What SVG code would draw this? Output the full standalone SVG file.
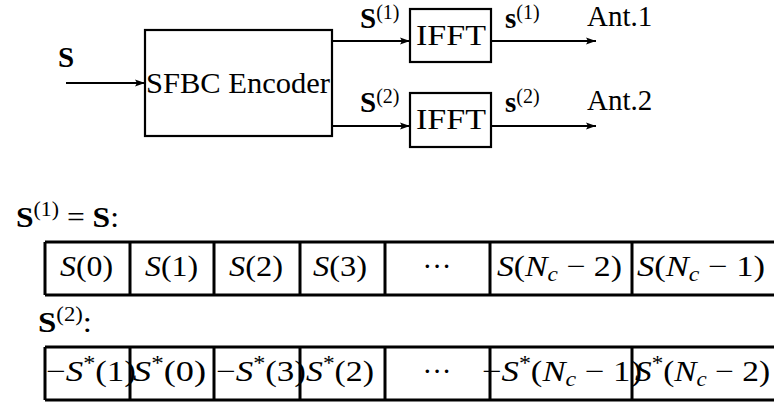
<svg xmlns="http://www.w3.org/2000/svg" width="774" height="407" viewBox="0 0 774 407">
<defs>
<style>
.t{font-family:"Liberation Serif","Times New Roman",serif;font-size:29px;fill:#000}
.i{font-style:italic}
.b{font-weight:bold}
.n{font-weight:normal;font-style:normal}
.sup{font-size:20px}
.box{fill:none;stroke:#000;stroke-width:2.2}
.ln{stroke:#000;stroke-width:2.2;fill:none}
.tl{stroke:#000;stroke-width:3;fill:none}
</style>
<marker id="arr" markerUnits="userSpaceOnUse" markerWidth="11" markerHeight="8" refX="10" refY="4" orient="auto">
<path d="M0,0.5 L10,4 L0,7.5 L2,4 z" fill="#000"/>
</marker>
</defs>
<rect width="774" height="407" fill="#fff"/>

<g id="input-label"><text class="t b" x="58" y="67">S</text></g>

<g id="encoder">
<rect class="box" x="145" y="30" width="187" height="106"/>
<text class="t" x="146" y="93" textLength="184" lengthAdjust="spacingAndGlyphs">SFBC Encoder</text>
</g>

<g id="ifft1">
<rect class="box" x="410" y="9" width="81" height="53"/>
<text class="t" x="416" y="45" textLength="70" lengthAdjust="spacingAndGlyphs">IFFT</text>
</g>

<g id="ifft2">
<rect class="box" x="410" y="93" width="81" height="54"/>
<text class="t" x="416" y="129" textLength="70" lengthAdjust="spacingAndGlyphs">IFFT</text>
</g>

<g id="labels">
<text class="t b" x="360" y="28">S<tspan class="sup n" dy="-9">(1)</tspan></text>
<text class="t b" x="505" y="28">s<tspan class="sup n" dy="-9">(1)</tspan></text>
<text class="t" x="587" y="26">Ant.1</text>
<text class="t b" x="360" y="112">S<tspan class="sup n" dy="-9">(2)</tspan></text>
<text class="t b" x="505" y="112">s<tspan class="sup n" dy="-9">(2)</tspan></text>
<text class="t" x="587" y="110">Ant.2</text>
</g>

<g id="connectors">
<line class="ln" x1="66" y1="83" x2="145" y2="83" marker-end="url(#arr)"/>
<line class="ln" x1="332" y1="41" x2="410" y2="41" marker-end="url(#arr)"/>
<line class="ln" x1="332" y1="126" x2="410" y2="126" marker-end="url(#arr)"/>
<line class="ln" x1="491" y1="41" x2="596" y2="41" marker-end="url(#arr)"/>
<line class="ln" x1="491" y1="126" x2="596" y2="126" marker-end="url(#arr)"/>
</g>

<g id="row1-label"><text class="t" x="16" y="227" textLength="103" lengthAdjust="spacingAndGlyphs"><tspan class="b">S</tspan><tspan class="sup" dy="-11">(1)</tspan><tspan dy="11"> = </tspan><tspan class="b">S</tspan>:</text></g>

<g id="row1">
<g id="r1c0"><text class="t" x="60" y="276" textLength="53" lengthAdjust="spacingAndGlyphs"><tspan class="i">S</tspan>(0)</text></g>
<g id="r1c1"><text class="t" x="145" y="276" textLength="53" lengthAdjust="spacingAndGlyphs"><tspan class="i">S</tspan>(1)</text></g>
<g id="r1c2"><text class="t" x="229" y="276" textLength="54" lengthAdjust="spacingAndGlyphs"><tspan class="i">S</tspan>(2)</text></g>
<g id="r1c3"><text class="t" x="313" y="276" textLength="54" lengthAdjust="spacingAndGlyphs"><tspan class="i">S</tspan>(3)</text></g>
<g id="r1c4"><text class="t" x="437" y="276" text-anchor="middle">···</text></g>
<g id="r1c5"><text class="t" x="497" y="276" textLength="125" lengthAdjust="spacingAndGlyphs"><tspan class="i">S</tspan>(<tspan class="i">N</tspan><tspan class="sup i" dy="5">c</tspan><tspan dy="-5"> − 2)</tspan></text></g>
<g id="r1c6"><text class="t" x="637" y="276" textLength="128" lengthAdjust="spacingAndGlyphs"><tspan class="i">S</tspan>(<tspan class="i">N</tspan><tspan class="sup i" dy="5">c</tspan><tspan dy="-5"> − 1)</tspan></text></g>
<path class="tl" d="M45,242 H774 M45,295 H774 M45,242 V295 M130,242 V295 M214,242 V295 M300,242 V295 M385,242 V295 M490,242 V295 M632,242 V295"/>
</g>

<g id="row2-label"><text class="t" x="38" y="332" textLength="54" lengthAdjust="spacingAndGlyphs"><tspan class="b">S</tspan><tspan class="sup" dy="-11">(2)</tspan><tspan dy="11">:</tspan></text></g>

<g id="row2">
<g id="r2c0"><text class="t" x="46" y="381" textLength="90" lengthAdjust="spacingAndGlyphs">−<tspan class="i">S</tspan><tspan class="sup" dy="-11">*</tspan><tspan dy="11">(1)</tspan></text></g>
<g id="r2c1"><text class="t" x="133" y="381" textLength="73" lengthAdjust="spacingAndGlyphs"><tspan class="i">S</tspan><tspan class="sup" dy="-11">*</tspan><tspan dy="11">(0)</tspan></text></g>
<g id="r2c2"><text class="t" x="216" y="381" textLength="90" lengthAdjust="spacingAndGlyphs">−<tspan class="i">S</tspan><tspan class="sup" dy="-11">*</tspan><tspan dy="11">(3)</tspan></text></g>
<g id="r2c3"><text class="t" x="306" y="381" textLength="68" lengthAdjust="spacingAndGlyphs"><tspan class="i">S</tspan><tspan class="sup" dy="-11">*</tspan><tspan dy="11">(2)</tspan></text></g>
<g id="r2c4"><text class="t" x="437" y="381" text-anchor="middle">···</text></g>
<g id="r2c5"><text class="t" x="482" y="381" textLength="160" lengthAdjust="spacingAndGlyphs">−<tspan class="i">S</tspan><tspan class="sup" dy="-11">*</tspan><tspan dy="11">(</tspan><tspan class="i">N</tspan><tspan class="sup i" dy="5">c</tspan><tspan dy="-5"> − 1)</tspan></text></g>
<g id="r2c6"><text class="t" x="635" y="381" textLength="135" lengthAdjust="spacingAndGlyphs"><tspan class="i">S</tspan><tspan class="sup" dy="-11">*</tspan><tspan dy="11">(</tspan><tspan class="i">N</tspan><tspan class="sup i" dy="5">c</tspan><tspan dy="-5"> − 2)</tspan></text></g>
<path class="tl" d="M45,347 H774 M45,400 H774 M45,347 V400 M130,347 V400 M214,347 V400 M300,347 V400 M385,347 V400 M490,347 V400 M632,347 V400"/>
</g>
</svg>
